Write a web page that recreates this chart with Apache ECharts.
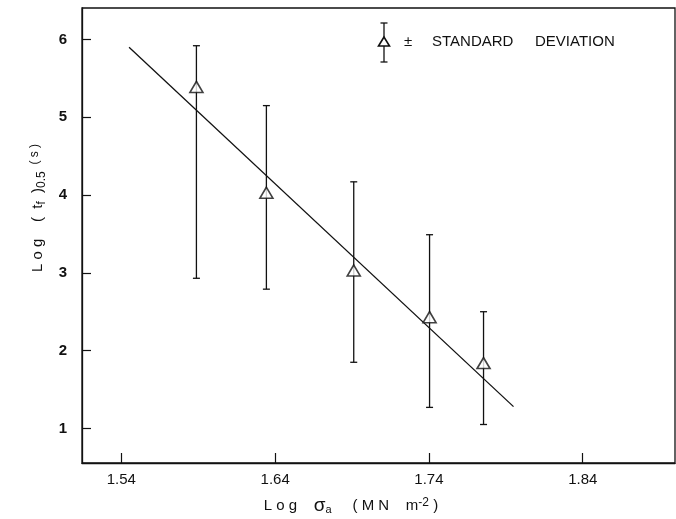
<!DOCTYPE html>
<html>
<head>
<meta charset="utf-8">
<script src="https://cdn.jsdelivr.net/npm/echarts@6/dist/echarts.min.js"></script>
<style>html,body{margin:0;padding:0;background:#fff}#c{width:676px;height:519px}</style>
</head>
<body>
<div id="c"></div>
<script>
var logStress = [1.5888, 1.6343, 1.6911, 1.7404, 1.7755];
var logTime   = [5.39, 4.03, 3.03, 2.43, 1.84];
var upperSD   = [5.92, 5.15, 4.17, 3.49, 2.50];
var lowerSD   = [2.93, 2.79, 1.85, 1.27, 1.05];
var fitX = [1.545, 1.795];
var fitY = [5.90, 1.28];
var xTicks = [1.54, 1.64, 1.74, 1.84];
var yTicks = [1, 2, 3, 4, 5, 6];

var FONT = 'Liberation Sans';
var chart = echarts.init(document.getElementById('c'), null, {renderer: 'canvas'});

var pts = logStress.map(function (x, i) { return [x, logTime[i]]; });
var bars = logStress.map(function (x, i) { return [x, lowerSD[i], upperSD[i]]; });
var fit = fitX.map(function (x, i) { return [x, fitY[i]]; });

chart.setOption({
  animation: false,
  backgroundColor: '#fff',
  grid: {left: 82, right: 1, top: 8, bottom: 56, show: true, borderColor: '#111', borderWidth: 1.3},
  xAxis: {
    type: 'value', min: 1.5144, max: 1.90,
    axisLine: {show: true, onZero: false, lineStyle: {color: '#111', width: 1.3}},
    axisTick: {show: true, inside: true, length: 10, customValues: xTicks, lineStyle: {color: '#111', width: 1.2}},
    axisLabel: {customValues: xTicks, color: '#111', fontFamily: FONT, fontSize: 15, margin: 9,
      formatter: function (v) { return v.toFixed(2); }},
    splitLine: {show: false}
  },
  yAxis: {
    type: 'value', min: 0.555, max: 6.405,
    axisLine: {show: true, onZero: false, lineStyle: {color: '#111', width: 1.3}},
    axisTick: {show: true, inside: true, length: 9, customValues: yTicks, lineStyle: {color: '#111', width: 1.2}},
    axisLabel: {customValues: yTicks, color: '#111', fontFamily: FONT, fontSize: 15, margin: 15, fontWeight: 'bold'},
    splitLine: {show: false}
  },
  series: [
    {
      type: 'line', data: fit, symbol: 'none',
      lineStyle: {color: '#111', width: 1.3}, z: 2
    },
    {
      type: 'custom', data: bars, z: 3,
      renderItem: function (params, api) {
        var x = api.value(0);
        var lo = api.coord([x, api.value(1)]);
        var hi = api.coord([x, api.value(2)]);
        var w = 3.5;
        var st = {stroke: '#111', lineWidth: 1.3, fill: null};
        return {type: 'group', children: [
          {type: 'line', shape: {x1: lo[0], y1: lo[1], x2: hi[0], y2: hi[1]}, style: st},
          {type: 'line', shape: {x1: lo[0] - w, y1: lo[1], x2: lo[0] + w, y2: lo[1]}, style: st},
          {type: 'line', shape: {x1: hi[0] - w, y1: hi[1], x2: hi[0] + w, y2: hi[1]}, style: st}
        ]};
      }
    },
    {
      type: 'scatter', data: pts, symbol: 'triangle', symbolSize: [13, 11], z: 4,
      itemStyle: {color: '#fff', borderColor: '#111', borderWidth: 1.6}
    }
  ],
  graphic: [
    {type: 'line', shape: {x1: 384, y1: 23, x2: 384, y2: 62}, style: {stroke: '#111', lineWidth: 1.3}},
    {type: 'line', shape: {x1: 380.5, y1: 23, x2: 387.5, y2: 23}, style: {stroke: '#111', lineWidth: 1.3}},
    {type: 'line', shape: {x1: 380.5, y1: 62, x2: 387.5, y2: 62}, style: {stroke: '#111', lineWidth: 1.3}},
    {type: 'polygon', shape: {points: [[384, 37], [378.5, 46], [389.5, 46]]}, style: {fill: '#fff', stroke: '#111', lineWidth: 1.6}},
    {type: 'text', x: 404, y: 42, style: {text: '±', font: '15px ' + FONT, fill: '#111', verticalAlign: 'middle'}},
    {type: 'text', x: 432, y: 42, style: {text: 'STANDARD', font: '15px ' + FONT, fill: '#111', verticalAlign: 'middle'}},
    {type: 'text', x: 535, y: 42, style: {text: 'DEVIATION', font: '15px ' + FONT, fill: '#111', verticalAlign: 'middle'}},
    {type: 'text', x: 351, y: 506, style: {
      text: 'L o g    {g|σ}{sub|a}     ( M N    m{sup|-2} )',
      font: '15px ' + FONT, fill: '#111', align: 'center', verticalAlign: 'middle',
      rich: {
        g: {fontSize: 19, fontFamily: FONT, fill: '#111'},
        sub: {fontSize: 11, fontFamily: FONT, verticalAlign: 'bottom', padding: [7, 0, 0, 0]},
        sup: {fontSize: 12, fontFamily: FONT, verticalAlign: 'top', padding: [0, 0, 7, 0]}
      }
    }},
    {type: 'text', x: 38, y: 208, rotation: Math.PI / 2, style: {
      text: 'L o g    (  t{sub|f}  ){sub|0.5}{sup|  ( s )}',
      font: '15px ' + FONT, fill: '#111', align: 'center', verticalAlign: 'middle',
      rich: {
        sub: {fontSize: 12, fontFamily: FONT, verticalAlign: 'bottom', padding: [7, 0, 0, 0]},
        sup: {fontSize: 12, fontFamily: FONT, verticalAlign: 'top', padding: [0, 0, 7, 0]}
      }
    }}
  ]
});
</script>
</body>
</html>
